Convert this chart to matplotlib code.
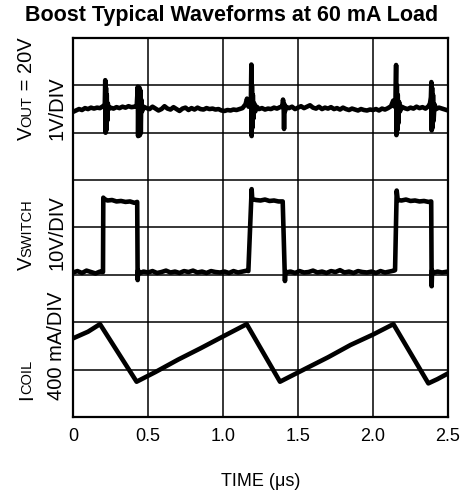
import numpy as np
import matplotlib
matplotlib.use('Agg')
import matplotlib.pyplot as plt
from matplotlib.transforms import IdentityTransform

plt.rcParams['font.family'] = ['Liberation Sans', 'DejaVu Sans']

# time in microseconds, traces in screen divisions (0 = bottom line, 8 = top line)
vout_t = [0.00, 0.02, 0.04, 0.06, 0.08, 0.10, 0.12, 0.14, 0.16, 0.18, 0.20,
          0.212, 0.215, 0.217, 0.220, 0.222, 0.225, 0.228, 0.232, 0.238,
          0.25, 0.27, 0.29, 0.31, 0.33, 0.35, 0.37, 0.39, 0.41, 0.425,
          0.432, 0.434, 0.437, 0.440, 0.443, 0.446, 0.449, 0.452, 0.455, 0.46,
          0.47, 0.49, 0.51, 0.53, 0.55, 0.57, 0.59, 0.61, 0.63, 0.65, 0.67,
          0.69, 0.71, 0.73, 0.75, 0.77, 0.79, 0.81, 0.83, 0.85, 0.87, 0.89,
          0.91, 0.93, 0.95, 0.97, 0.99, 1.01, 1.03, 1.05, 1.07, 1.09, 1.11,
          1.13, 1.15, 1.16, 1.17, 1.18,
          1.186, 1.189, 1.191, 1.193, 1.196, 1.199, 1.203, 1.208, 1.215, 1.225,
          1.24, 1.26, 1.28, 1.30, 1.32, 1.34, 1.36, 1.38, 1.395,
          1.400, 1.404, 1.407, 1.410, 1.413, 1.42,
          1.44, 1.46, 1.48, 1.50, 1.52, 1.54, 1.56, 1.58, 1.60, 1.62, 1.64,
          1.66, 1.68, 1.70, 1.72, 1.74, 1.76, 1.78, 1.80, 1.82, 1.84, 1.86,
          1.88, 1.90, 1.92, 1.94, 1.96, 1.98, 2.00, 2.02, 2.04, 2.06, 2.08,
          2.10, 2.12, 2.135, 2.145, 2.150,
          2.154, 2.156, 2.159, 2.162, 2.165, 2.169, 2.174, 2.18, 2.19,
          2.21, 2.23, 2.25, 2.27, 2.29, 2.31, 2.33, 2.35, 2.37, 2.38,
          2.386, 2.389, 2.391, 2.394, 2.397, 2.400, 2.404, 2.41, 2.42,
          2.44, 2.46, 2.48, 2.50]
vout_v = [6.44, 6.47, 6.50, 6.48, 6.52, 6.50, 6.53, 6.51, 6.53, 6.52, 6.56,
          6.60, 7.11, 6.00, 6.95, 6.05, 6.80, 6.25, 6.62, 6.50,
          6.53, 6.51, 6.54, 6.52, 6.55, 6.53, 6.56, 6.54, 6.55, 6.58,
          6.97, 5.93, 6.96, 5.94, 6.95, 5.95, 6.90, 6.00, 6.70, 6.45,
          6.55, 6.52, 6.50, 6.55, 6.51, 6.47, 6.50, 6.56, 6.51, 6.49, 6.54,
          6.50, 6.46, 6.51, 6.53, 6.48, 6.52, 6.49, 6.53, 6.50, 6.49, 6.52,
          6.50, 6.51, 6.49, 6.50, 6.47, 6.46, 6.48, 6.47, 6.49, 6.48, 6.50,
          6.52, 6.60, 6.72, 6.55, 6.62,
          6.70, 7.44, 5.93, 7.00, 6.10, 6.80, 6.30, 6.62, 6.45, 6.55,
          6.50, 6.52, 6.49, 6.51, 6.50, 6.53, 6.51, 6.54, 6.55,
          6.70, 6.62, 6.08, 6.60, 6.45, 6.55,
          6.52, 6.55, 6.50, 6.53, 6.56, 6.52, 6.55, 6.58, 6.53, 6.51, 6.55,
          6.50, 6.53, 6.51, 6.54, 6.50, 6.52, 6.49, 6.53, 6.50, 6.48, 6.51,
          6.49, 6.47, 6.50, 6.48, 6.47, 6.49, 6.48, 6.50, 6.47, 6.51, 6.49,
          6.52, 6.56, 6.68, 6.55, 6.62,
          7.43, 5.95, 7.00, 6.05, 6.80, 6.20, 6.65, 6.45, 6.55,
          6.52, 6.50, 6.53, 6.51, 6.55, 6.52, 6.54, 6.51, 6.56, 6.62,
          6.75, 7.07, 6.05, 6.95, 6.10, 6.80, 6.25, 6.60, 6.50,
          6.53, 6.51, 6.49, 6.47]

vsw_t = [0.00, 0.03, 0.06, 0.09, 0.12, 0.15, 0.18, 0.200,
         0.202, 0.21, 0.23, 0.26, 0.29, 0.32, 0.35, 0.38, 0.41, 0.428,
         0.431, 0.434, 0.44, 0.47, 0.50, 0.53, 0.56, 0.59, 0.62, 0.65, 0.68,
         0.71, 0.74, 0.77, 0.80, 0.83, 0.86, 0.89, 0.92, 0.95, 0.98, 1.01,
         1.04, 1.07, 1.10, 1.13, 1.16, 1.169,
         1.191, 1.195, 1.22, 1.25, 1.28, 1.31, 1.34, 1.37, 1.398,
         1.413, 1.416, 1.42, 1.45, 1.48, 1.51, 1.54, 1.57, 1.60, 1.63, 1.66,
         1.69, 1.72, 1.75, 1.78, 1.81, 1.84, 1.87, 1.90, 1.93, 1.96, 1.99,
         2.02, 2.05, 2.08, 2.11, 2.14, 2.147,
         2.158, 2.165, 2.19, 2.22, 2.25, 2.28, 2.31, 2.34, 2.37, 2.388,
         2.391, 2.394, 2.40, 2.43, 2.46, 2.50]
vsw_v = [3.05, 3.08, 3.04, 3.09, 3.06, 3.03, 3.07, 3.06,
         4.63, 4.60, 4.57, 4.58, 4.55, 4.56, 4.54, 4.55, 4.52, 4.54,
         2.89, 3.10, 3.03, 3.07, 3.05, 3.08, 3.04, 3.06, 3.09, 3.05, 3.07,
         3.04, 3.08, 3.06, 3.09, 3.05, 3.07, 3.04, 3.08, 3.06, 3.05, 3.07,
         3.04, 3.08, 3.05, 3.07, 3.09, 3.08,
         4.81, 4.60, 4.58, 4.57, 4.59, 4.56, 4.57, 4.55, 4.55,
         2.87, 3.08, 3.05, 3.07, 3.04, 3.08, 3.05, 3.06, 3.09, 3.05, 3.07,
         3.04, 3.08, 3.06, 3.10, 3.05, 3.07, 3.04, 3.08, 3.06, 3.05, 3.07,
         3.04, 3.08, 3.05, 3.07, 3.09, 3.10,
         4.78, 4.58, 4.57, 4.59, 4.56, 4.57, 4.55, 4.56, 4.54, 4.55,
         2.76, 3.10, 3.04, 3.07, 3.05, 3.07]

icoil_t = [0.00, 0.05, 0.10, 0.15, 0.18, 0.424, 0.55, 0.70, 0.85, 1.00, 1.158,
           1.38, 1.55, 1.70, 1.85, 2.00, 2.136, 2.369, 2.43, 2.50]
icoil_v = [1.66, 1.73, 1.80, 1.90, 1.96, 0.745, 0.95, 1.21, 1.45, 1.70, 1.96,
           0.745, 1.02, 1.26, 1.52, 1.74, 1.96, 0.71, 0.80, 0.92]

x_ticks = [0, 0.5, 1.0, 1.5, 2.0, 2.5]
x_tick_labels = ['0', '0.5', '1.0', '1.5', '2.0', '2.5']

W, H = 464, 496
fig = plt.figure(figsize=(W / 100, H / 100), dpi=100)
ax = fig.add_axes([73 / W, 1 - 417 / H, 375 / W, 379 / H])

ax.plot(vout_t, vout_v, color='black', lw=3.3, solid_joinstyle='round')
ax.plot(vsw_t, vsw_v, color='black', lw=3.3, solid_joinstyle='round')
ax.plot(icoil_t, icoil_v, color='black', lw=3.3, solid_joinstyle='round')

ax.set_xlim(0, 2.5)
ax.set_ylim(0, 8)
ax.set_xticks(x_ticks)
ax.set_xticklabels(x_tick_labels, fontsize=13)
ax.set_yticks(np.arange(0, 9))
ax.set_yticklabels([])
ax.tick_params(length=0, pad=8)
ax.grid(True, color='black', lw=1.1)
for s in ax.spines.values():
    s.set_linewidth(1.6)

fig.text(0.5, 1 - 16 / H, 'Boost Typical Waveforms at 60 mA Load',
         ha='center', va='center', fontsize=15.5, fontweight='bold')
fig.text((73 + 448) / 2 / W, 1 - 482 / H, 'TIME (\u03bcs)',
         ha='center', va='center', fontsize=13)

# rotated channel labels: big letter + small letters on same baseline
renderer = fig.canvas.get_renderer()
big, small = 14.5, 10.5


def put_label(y_px, pieces, line2):
    y = H - y_px
    for txt, size in pieces:
        t = fig.text(31.7, y, txt, transform=IdentityTransform(), rotation=90,
                     rotation_mode='anchor', ha='left', va='baseline', fontsize=size)
        y += t.get_window_extent(renderer).height
    fig.text(62.5, H - y_px, line2, transform=IdentityTransform(), rotation=90,
             rotation_mode='anchor', ha='left', va='baseline', fontsize=big)


put_label(140, [('V', big), ('OUT', small), (' = 20V', big)], '1V/DIV')
put_label(270, [('V', big), ('SWITCH', small)], '10V/DIV')
put_label(400, [('I', big), ('COIL', small)], '400 mA/DIV')

fig.savefig('out.png', dpi=100)
